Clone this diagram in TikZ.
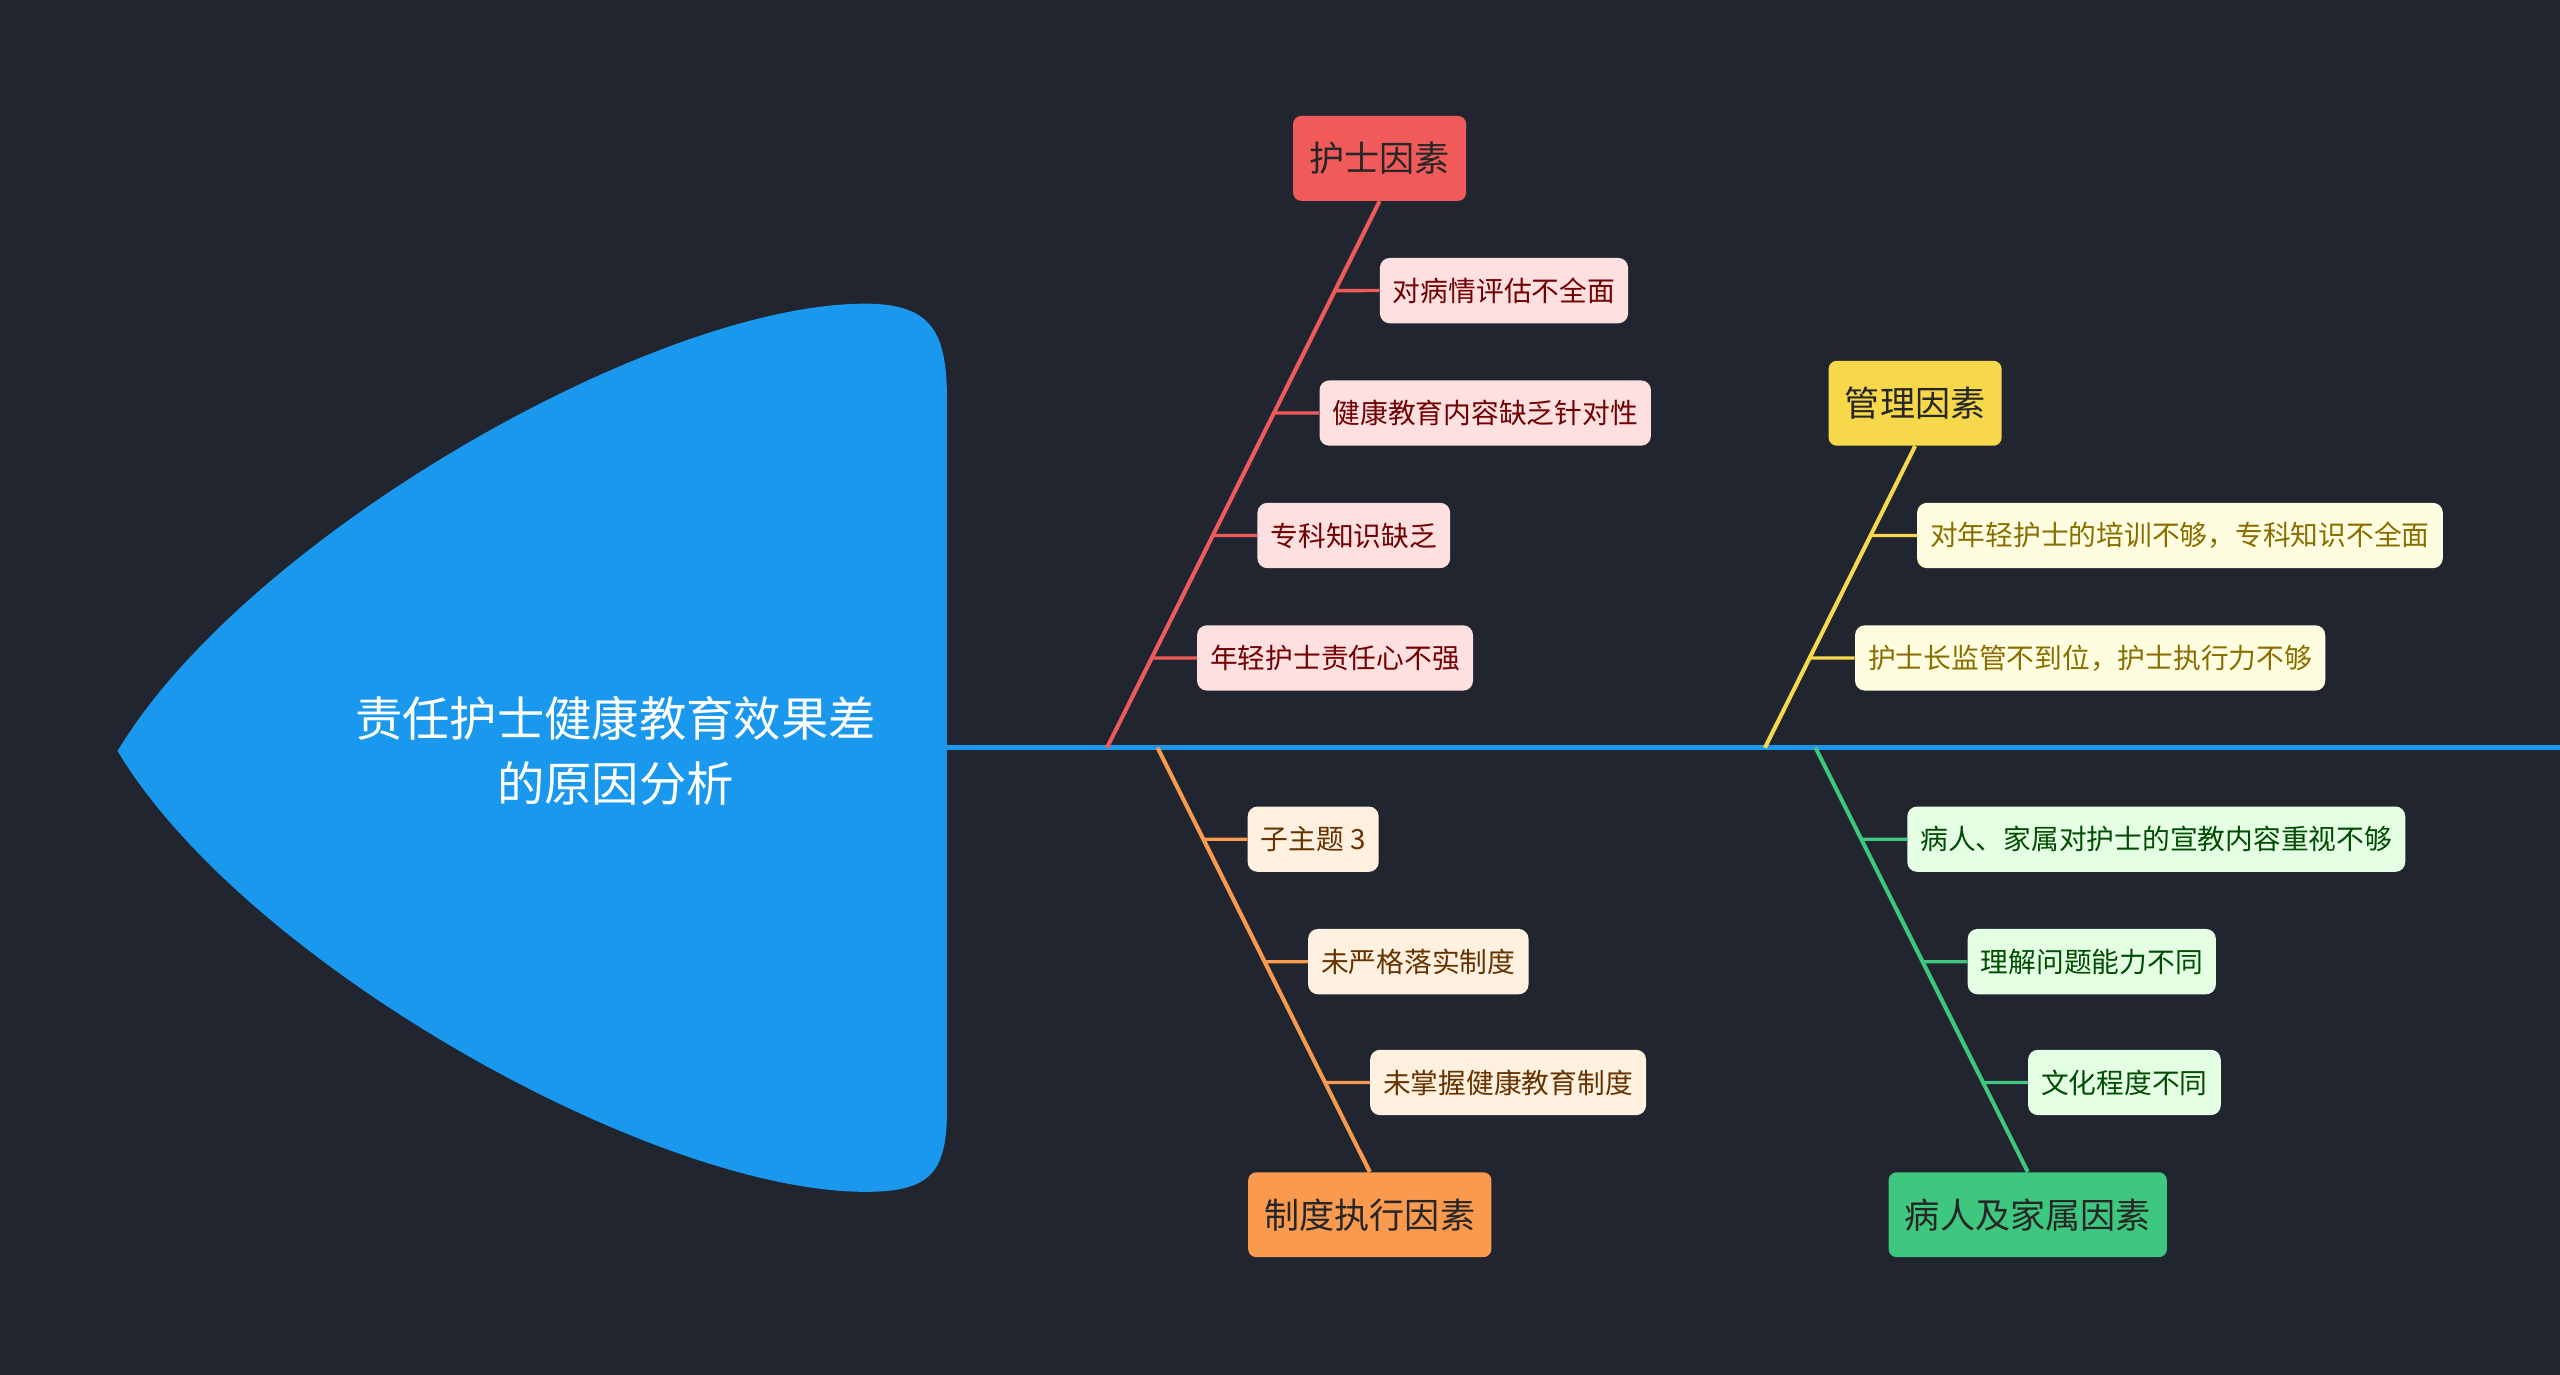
\documentclass[tikz,border=0pt]{standalone}
\usepackage{fontspec}
\setmainfont{Noto Sans CJK SC}
\begin{document}
\begin{tikzpicture}[x=1pt,y=-1pt,
  main/.style={rounded corners=5pt,minimum height=52pt,inner xsep=10pt,font=\fontsize{21.5}{24}\selectfont,text=black!85},
  sub/.style={rounded corners=6pt,minimum height=40pt,inner xsep=8pt,anchor=west,font=\fontsize{17}{20}\selectfont},
  bone/.style={line width=2.5pt},
  tick/.style={line width=2pt}]
\definecolor{bg}{HTML}{21252F}
\definecolor{headc}{HTML}{1A98EE}
\definecolor{redc}{HTML}{F05A5A}
\definecolor{yelc}{HTML}{F7D84A}
\definecolor{orac}{HTML}{F99A4F}
\definecolor{grec}{HTML}{3EC77F}
\definecolor{yelt}{HTML}{8A6D00}
\fill[bg] (0,0) rectangle (1568,842);
\useasboundingbox (0,0) rectangle (1568,842);
\fill[headc] (72,460) .. controls (150,330) and (400,186) .. (530,186) .. controls (572,186) and (580,205) .. (580,245) -- (580,680) .. controls (580,718) and (570,730) .. (530,730) .. controls (400,730) and (150,590) .. (72,460) -- cycle;
\node[text=white,align=center,font=\fontsize{29}{40}\selectfont] (title) at (377,460) {责任护士健康教育效果差\\的原因分析};
\coordinate (s0) at (580,458);
\coordinate (s1) at (1568,458);
\draw[headc,line width=3pt] (s0) -- (s1);
% nurse
\coordinate (ra) at (678,458);
\node[main,fill=redc] (r) at (845,97) {护士因素};
\draw[bone,redc] (ra) -- (r.south);
\foreach \n/\x/\y/\t in {r1/845/178/对病情评估不全面, r2/808/253/健康教育内容缺乏针对性, r3/770/328/专科知识缺乏, r4/733/403/年轻护士责任心不强}{
  \node[sub,fill=red!12,text=red!45!black] (\n) at (\x,\y) {\t};
  \draw[tick,redc] (intersection of ra--r.south and \n.west--\n.east) -- (\n.west);}
% management
\coordinate (ya) at (1081,458);
\node[main,fill=yelc] (y) at (1173,247) {管理因素};
\draw[bone,yelc] (ya) -- (y.south);
\foreach \n/\x/\y/\t in {y1/1174/328/对年轻护士的培训不够，专科知识不全面, y2/1136/403/护士长监管不到位，护士执行力不够}{
  \node[sub,fill=yellow!12,text=yelt] (\n) at (\x,\y) {\t};
  \draw[tick,yelc] (intersection of ya--y.south and \n.west--\n.east) -- (\n.west);}
% system
\coordinate (oa) at (709,458);
\node[main,fill=orac] (o) at (839,744) {制度执行因素};
\draw[bone,orac] (oa) -- (o.north);
\foreach \n/\x/\y/\t in {o1/764/514/子主题 3, o2/801/589/未严格落实制度, o3/839/663/未掌握健康教育制度}{
  \node[sub,fill=orange!12,text=orange!40!black] (\n) at (\x,\y) {\t};
  \draw[tick,orac] (intersection of oa--o.north and \n.west--\n.east) -- (\n.west);}
% patients
\coordinate (ga) at (1112,458);
\node[main,fill=grec] (g) at (1242,744) {病人及家属因素};
\draw[bone,grec] (ga) -- (g.north);
\foreach \n/\x/\y/\t in {g1/1168/514/病人、家属对护士的宣教内容重视不够, g2/1205/589/理解问题能力不同, g3/1242/663/文化程度不同}{
  \node[sub,fill=green!10,text=green!30!black] (\n) at (\x,\y) {\t};
  \draw[tick,grec] (intersection of ga--g.north and \n.west--\n.east) -- (\n.west);}
\end{tikzpicture}
\end{document}
